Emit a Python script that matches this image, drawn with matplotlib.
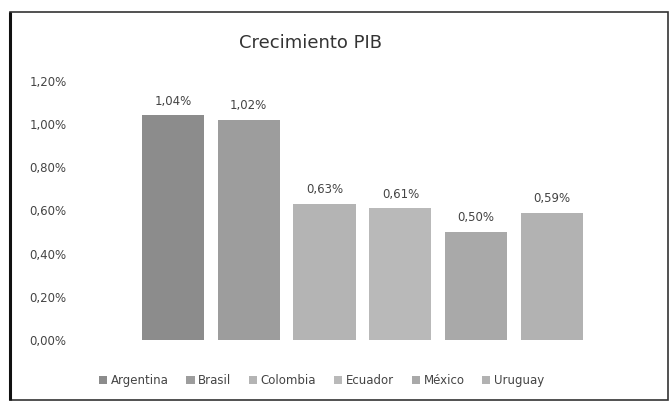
import matplotlib
matplotlib.use('Agg')
import matplotlib.pyplot as plt
from matplotlib.patches import Rectangle
from matplotlib.ticker import FuncFormatter

paises = ['Argentina', 'Brasil', 'Colombia', 'Ecuador', 'México', 'Uruguay']
crecimiento = [1.04, 1.02, 0.63, 0.61, 0.50, 0.59]
etiquetas = ['1,04%', '1,02%', '0,63%', '0,61%', '0,50%', '0,59%']
colores = ['#8c8c8c', '#9d9d9d', '#b4b4b4', '#b9b9b9', '#a9a9a9', '#b2b2b2']


def pct(v, pos):
  """Formato de porcentaje con coma decimal."""
  return ('%.2f%%' % v).replace('.', ',')


fig = plt.figure(figsize=(6.7, 4.17), dpi=100)
fig.patch.set_facecolor('white')

# marco del gráfico
fig.patches.append(Rectangle((10 / 670, 17 / 417), 658 / 670, 388 / 417,
                             transform=fig.transFigure, fill=False,
                             edgecolor='#333333', linewidth=1.2))
fig.patches.append(Rectangle((10 / 670, 17 / 417), 0, 388 / 417,
                             transform=fig.transFigure, fill=False,
                             edgecolor='#111111', linewidth=2.2))

ax = fig.add_axes([0.112, 0.185, 0.858, 0.621])
x = list(range(len(paises)))
bars = ax.bar(x, crecimiento, width=0.82, color=colores, label=paises)

for xi, v, t in zip(x, crecimiento, etiquetas):
  ax.text(xi, v + 0.035, t, ha='center', va='bottom', fontsize=8.5, color='#444444')

ax.set_xlim(-1.29, 6.29)
ax.set_ylim(0, 1.2)
ax.set_yticks([0, 0.2, 0.4, 0.6, 0.8, 1.0, 1.2])
ax.yaxis.set_major_formatter(FuncFormatter(pct))
ax.set_xticks([])
ax.tick_params(axis='y', length=0, labelsize=8.5, labelcolor='#444444', pad=6)
for s in ax.spines.values():
  s.set_visible(False)

fig.text(0.463, 0.898, 'Crecimiento PIB', ha='center', va='center',
         fontsize=13, color='#333333')

fig.legend(bars, paises, loc='center', bbox_to_anchor=(0.48, 0.088), ncol=6,
           frameon=False, fontsize=8.5, handlelength=0.7, handleheight=0.7,
           handletextpad=0.3, columnspacing=1.5, labelcolor='#444444')

plt.savefig('out.png', dpi=100)
